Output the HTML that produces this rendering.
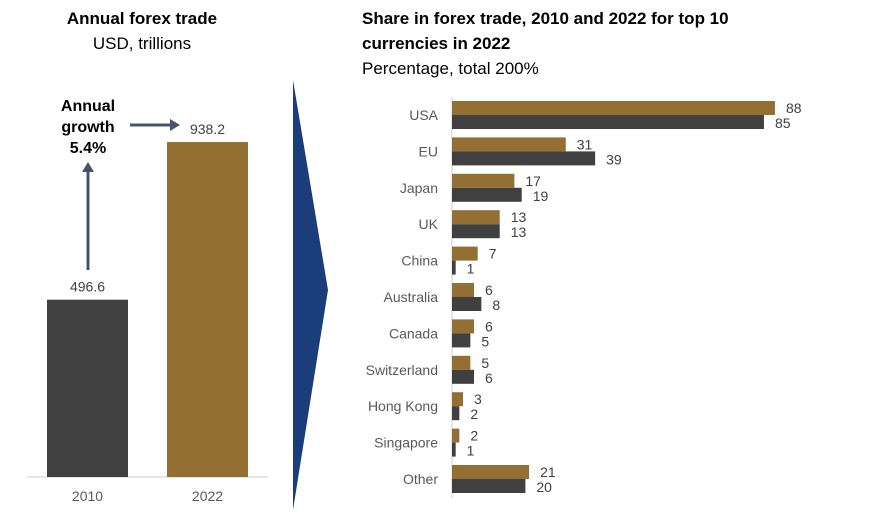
<!DOCTYPE html>
<html><head><meta charset="utf-8"><style>
body{margin:0;background:#fff;font-family:"Liberation Sans",Arial,sans-serif}
svg{display:block}
</style></head><body>
<svg width="885" height="524" id="s">
<text x="142" y="24" text-anchor="middle" font-size="17" font-weight="bold" fill="#000">Annual forex trade</text>
<text x="142" y="49" text-anchor="middle" font-size="17" fill="#000">USD, trillions</text>
<text x="362" y="24" font-size="17" font-weight="bold" fill="#000">Share in forex trade, 2010 and 2022 for top 10</text>
<text x="362" y="49" font-size="17" font-weight="bold" fill="#000">currencies in 2022</text>
<text x="362" y="74" font-size="17" fill="#000">Percentage, total 200%</text>
<polygon points="293,80 328,290 293,510" fill="#1b3d7a"/>
<line x1="27" y1="477" x2="268" y2="477" stroke="#ddd" stroke-width="1.5"/>
<line x1="452" y1="97" x2="452" y2="498" stroke="#ddd" stroke-width="1.5"/>
<text x="88" y="111" text-anchor="middle" font-size="16" font-weight="bold">Annual</text>
<text x="88" y="132" text-anchor="middle" font-size="16" font-weight="bold">growth</text>
<text x="88" y="153" text-anchor="middle" font-size="16" font-weight="bold">5.4%</text>
<line x1="88" y1="270" x2="88" y2="170" stroke="#44546a" stroke-width="3"/>
<polygon points="82,172 94,172 88,162" fill="#44546a"/>
<line x1="130" y1="125" x2="172" y2="125" stroke="#44546a" stroke-width="3"/>
<polygon points="170,119 170,131 180,125" fill="#44546a"/>
<g id="left"></g><g id="right"></g>
</svg>
<script>
const years=["2010","2022"];
const totals=[496.6,938.2];
const currencies=["USA","EU","Japan","UK","China","Australia","Canada","Switzerland","Hong Kong","Singapore","Other"];
const share2022=[88,31,17,13,7,6,6,5,3,2,21];
const share2010=[85,39,19,13,1,8,5,6,2,1,20];
const NS="http://www.w3.org/2000/svg";
function mk(p,t,a,txt){const e=document.createElementNS(NS,t);for(const k in a)e.setAttribute(k,a[k]);if(txt!==undefined)e.textContent=txt;p.appendChild(e);return e;}
const L=document.getElementById('left'),R=document.getElementById('right');
const base=477,ly=v=>base-v*0.357;
const lx=[47,167],lcol=["#404040","#946f33"];
years.forEach((y,i)=>{
 const r=mk(L,'rect',{x:lx[i],y:ly(totals[i]),width:81,height:base-ly(totals[i]),fill:lcol[i]});
 
 
 const t=mk(L,'text',{x:lx[i]+40.5,y:ly(totals[i])-8,'text-anchor':'middle','font-size':14,fill:'#404040'},totals[i].toFixed(1));
 
 
 const c=mk(L,'text',{x:lx[i]+40.5,y:501,'text-anchor':'middle','font-size':14,fill:'#595959'},y);
 
 
});
const x0=452,sx=v=>v*3.67;
currencies.forEach((c,i)=>{
 const cy=115+i*36.4;
 const g=mk(R,'rect',{x:x0,y:cy-14,width:sx(share2022[i]),height:14,fill:'#946f33'});
 
 
 const d=mk(R,'rect',{x:x0,y:cy,width:sx(share2010[i]),height:14,fill:'#404040'});
 
 
 const t1=mk(R,'text',{x:x0+sx(share2022[i])+11,y:cy-2,'font-size':14,fill:'#404040'},share2022[i]);
 
 
 const t2=mk(R,'text',{x:x0+sx(share2010[i])+11,y:cy+13,'font-size':14,fill:'#404040'},share2010[i]);
 
 
 const l=mk(R,'text',{x:438,y:cy+5,'text-anchor':'end','font-size':14,fill:'#595959'},c);
 
 
});
</script>
</body></html>
